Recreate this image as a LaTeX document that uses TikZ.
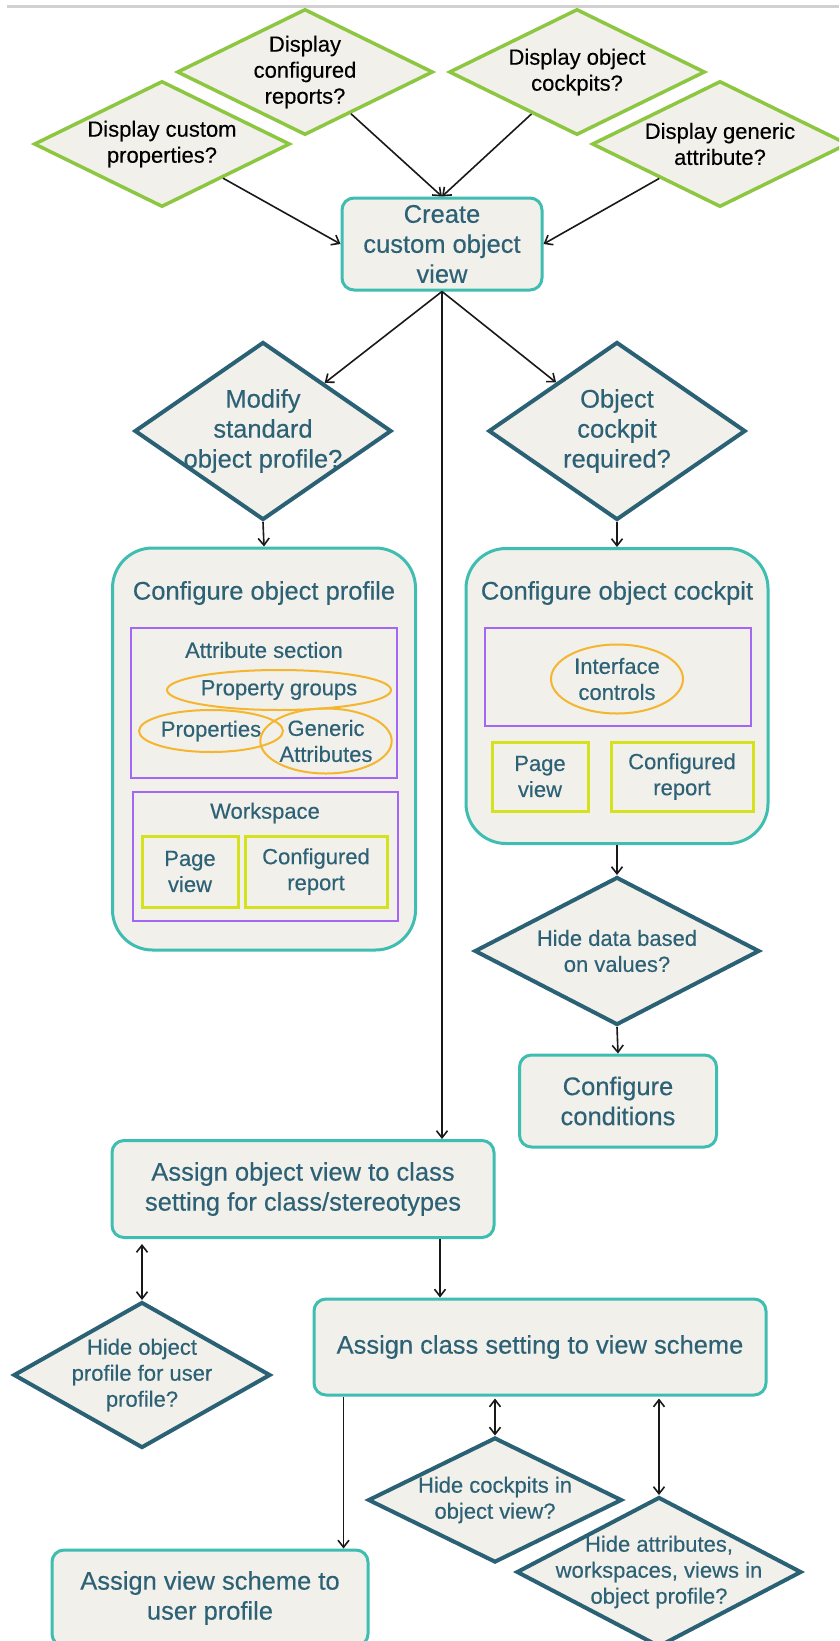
\documentclass[tikz,border=0pt]{standalone}
\usepackage{fontspec}
\setmainfont{Liberation Sans}[FakeBold=0.3]
\usetikzlibrary{shapes.geometric, arrows.meta}

\definecolor{paper}{HTML}{F1F0EA}
\definecolor{tealline}{HTML}{3EBDB0}
\definecolor{darkline}{HTML}{2B6174}
\definecolor{inktext}{HTML}{2D6175}
\definecolor{askgreen}{HTML}{8DC641}
\definecolor{secpurple}{HTML}{A366F5}
\definecolor{ctrlorange}{HTML}{F5B52E}
\definecolor{viewlime}{HTML}{D4E11C}

\begin{document}
\begin{tikzpicture}[x=1pt, y=-1pt,
    bigfont/.style={font=\fontsize{25.5}{30}\selectfont},
    smallfont/.style={font=\fontsize{22}{26}\selectfont},
    stepbox/.style={draw=tealline, line width=3pt, fill=paper, rounded corners=12pt, inner sep=3pt, align=center, text=inktext, bigfont},
    panel/.style={draw=tealline, line width=3pt, fill=paper, rounded corners=40pt},
    askdmd/.style={diamond, draw=askgreen, line width=3.5pt, fill=paper, inner sep=0pt, minimum width=256pt, minimum height=126pt},
    decide/.style={diamond, draw=darkline, line width=4pt, fill=paper, inner sep=0pt},
    asktext/.style={align=center, text=black, smallfont},
    bigq/.style={align=center, text=inktext, bigfont},
    smallq/.style={align=center, text=inktext, smallfont},
    secbox/.style={draw=secpurple, line width=1.5pt},
    ctrl/.style={ellipse, draw=ctrlorange, line width=2pt, inner sep=0pt, align=center, text=inktext, smallfont},
    viewbox/.style={draw=viewlime, line width=3pt, inner sep=2pt, align=center, text=inktext, smallfont},
    arr/.style={-{Straight Barb[length=7pt,width=11pt]}, line width=1.6pt, black!90},
    dblarr/.style={{Straight Barb[length=7pt,width=11pt]}-{Straight Barb[length=7pt,width=11pt]}, line width=1.6pt, black!90}]

    \useasboundingbox (0,0) rectangle (839,1641);
    \clip (0,0) rectangle (839,1641);
    \draw[line width=3pt, black!18] (7,6.5) -- (839,6.5);

    % Display questions - top tier
    \node[askdmd, label={[asktext]center:Display\\configured\\reports?}] (showrep) at (305,72) {};
    \node[askdmd, label={[asktext]center:Display object\\cockpits?}] (showcock) at (577,72) {};
    \node[askdmd, label={[asktext]center:Display custom\\properties?}] (showprops) at (162,144) {};
    \node[askdmd, label={[asktext]center:Display generic\\attribute?}] (showgen) at (720,144) {};

    \node[stepbox, minimum width=200pt, minimum height=92pt] (create) at (442,244) {Create\\custom object\\view};

    % Decisions below the custom view
    \node[decide, minimum width=257pt, minimum height=178pt, label={[bigq]center:Modify\\standard\\object profile?}] (modify) at (263,431) {};
    \node[decide, minimum width=257pt, minimum height=178pt, label={[bigq]center:Object\\cockpit\\required?}] (needcock) at (617,431) {};

    % Object profile panel
    \node[panel, minimum width=303pt, minimum height=402pt] (profpanel) at (264,749) {};
    \node[bigq] (proftitle) at (264,593) {Configure object profile};
    \node[secbox, minimum width=266pt, minimum height=150pt] (attrsec) at (264,703) {};
    \node[smallq] (attrtitle) at (264,650) {Attribute section};
    \node[ctrl, minimum width=224pt, minimum height=40pt] (groups) at (279,690) {Property groups};
    \node[ctrl, minimum width=144pt, minimum height=42pt] (props) at (211,731) {Properties};
    \node[ctrl, minimum width=130pt, minimum height=65pt] (generic) at (326,741) {Generic\\Attributes};
    \node[secbox, minimum width=265pt, minimum height=129pt] (wspace) at (265.5,856.5) {};
    \node[smallq] (wstitle) at (265,813) {Workspace};
    \node[viewbox, minimum width=96pt, minimum height=71pt] (pageview) at (190,871.5) {Page\\view};
    \node[viewbox, minimum width=142pt, minimum height=71pt] (confrep) at (316,871.5) {Configured\\report};

    % Object cockpit panel
    \node[panel, minimum width=302pt, minimum height=295pt] (cockpanel) at (617,696) {};
    \node[bigq] (cocktitle) at (617,593) {Configure object cockpit};
    \node[secbox, minimum width=266pt, minimum height=98pt] (ifcsec) at (618,677) {};
    \node[ctrl, minimum width=132pt, minimum height=69pt] (ifc) at (617,679) {Interface\\controls};
    \node[viewbox, minimum width=96pt, minimum height=69pt] (pageview2) at (540,776.5) {Page\\view};
    \node[viewbox, minimum width=142pt, minimum height=69pt] (confrep2) at (682,776.5) {Configured\\report};

    \node[decide, minimum width=285pt, minimum height=148pt, label={[smallq]center:Hide data based\\on values?}] (hidedata) at (617,951) {};
    \node[stepbox, minimum width=197pt, minimum height=92pt] (conditions) at (618,1101) {Configure\\conditions};

    % Assignment steps - bottom tier
    \node[stepbox, minimum width=382pt, minimum height=97pt] (assignview) at (303,1189) {Assign object view to class\\setting for class/stereotypes};
    \node[decide, minimum width=257pt, minimum height=146pt, label={[smallq]center:Hide object\\profile for user\\profile?}] (hideprof) at (142,1375) {};
    \node[stepbox, minimum width=452pt, minimum height=96pt] (assignclass) at (540,1347) {Assign class setting to view scheme};
    \node[decide, minimum width=254pt, minimum height=125pt, label={[smallq]center:Hide cockpits in\\object view?}] (hidecock) at (495,1500) {};
    \node[decide, minimum width=285pt, minimum height=150pt, label={[smallq]center:Hide attributes,\\workspaces, views in\\object profile?}] (hideattr) at (659,1572) {};
    \node[stepbox, minimum width=316pt, minimum height=96pt] (assignscheme) at (210,1598) {Assign view scheme to\\user profile};

    % Connections
    \draw[arr] (showprops) -- (create.west);
    \draw[arr] (showrep) -- (create.north);
    \draw[arr] (showcock) -- (create.north);
    \draw[arr] (showgen) -- (create.east);

    \draw[arr] (create.south) -- (modify);
    \draw[arr] (create.south) -- (needcock);
    \draw[arr] (create.south) -- (create.south |- assignview.north);

    \draw[arr] (modify.south) -- (profpanel.north);
    \draw[arr] (needcock.south) -- (cockpanel.north);
    \draw[arr] (cockpanel.south) -- (hidedata.north);
    \draw[arr] (hidedata.south) -- (conditions.north);

    \draw[dblarr, shorten <=5pt] (hideprof.north |- assignview.south) -- (hideprof.north);
    \draw[arr] ([xshift=-2pt]create.south |- assignview.south) -- ([xshift=-2pt]create.south |- assignclass.north);
    \draw[dblarr, shorten <=2pt] (hidecock.north |- assignclass.south) -- (hidecock.north);
    \draw[dblarr, shorten <=2pt] (hideattr.north |- assignclass.south) -- (hideattr.north);
    \coordinate (schemein) at ([xshift=-26pt]assignscheme.north east);
    \draw[arr] (schemein |- assignclass.south) -- (schemein);
\end{tikzpicture}
\end{document}
